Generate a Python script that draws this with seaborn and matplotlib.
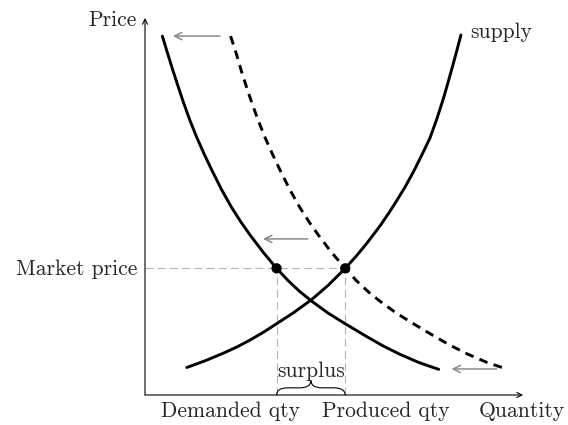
import matplotlib
matplotlib.use('Agg')
import matplotlib.pyplot as plt
import seaborn as sns
from matplotlib.path import Path
from matplotlib.patches import PathPatch

# curves (quantity, price)
supply_q = [1.11, 1.60, 2.08, 2.45, 2.79, 3.15, 3.49, 3.95, 4.42, 4.87, 5.31, 5.60, 5.88, 6.23,
            6.47, 6.68, 6.90, 7.12, 7.34, 7.56, 7.74, 7.91, 8.03, 8.15, 8.27, 8.38]
supply_p = [0.73, 0.91, 1.11, 1.28, 1.46, 1.67, 1.89, 2.19, 2.53, 2.92, 3.36, 3.68, 4.02, 4.48,
            4.83, 5.16, 5.52, 5.92, 6.36, 6.82, 7.32, 7.85, 8.26, 8.69, 9.13, 9.55]

demand_q = [0.46, 0.60, 0.75, 0.88, 1.02, 1.19, 1.37, 1.57, 1.77, 2.03, 2.30, 2.55, 2.79,
            3.14, 3.49, 3.80, 4.11, 4.42, 4.86, 5.31, 5.88, 6.30, 6.76, 7.27, 7.79]
demand_p = [9.52, 9.06, 8.58, 8.18, 7.76, 7.29, 6.84, 6.39, 5.97, 5.45, 4.97, 4.58, 4.24,
            3.78, 3.36, 3.03, 2.74, 2.49, 2.17, 1.89, 1.55, 1.31, 1.08, 0.86, 0.68]

shifted_q = [2.27, 2.42, 2.56, 2.69, 2.83, 3.00, 3.18, 3.38, 3.58, 3.84, 4.11, 4.36, 4.60,
             4.95, 5.31, 5.61, 5.92, 6.23, 6.67, 7.12, 7.69, 8.11, 8.57, 9.08, 9.59]
shifted_p = [9.52, 9.06, 8.58, 8.18, 7.76, 7.29, 6.84, 6.39, 5.97, 5.45, 4.97, 4.58, 4.24,
             3.78, 3.36, 3.03, 2.74, 2.49, 2.17, 1.89, 1.55, 1.31, 1.08, 0.86, 0.69]

market_price = 3.36
demanded_qty = 3.49
produced_qty = 5.31

# gray "shift" arrows: (q_from, q_to, price)
shift_arrows = [(1.99, 0.74, 9.52), (4.32, 3.13, 4.14), (9.33, 8.13, 0.69)]

sns.set_style('white')
plt.rcParams['font.family'] = ['cmr10', 'DejaVu Serif']
plt.rcParams['mathtext.fontset'] = 'cm'
plt.rcParams['axes.formatter.use_mathtext'] = True

fig = plt.figure(figsize=(5.68, 4.25), dpi=100)
ax = fig.add_axes([0, 0, 1, 1])
px = 37.7
ax.set_xlim(-145 / px, 423 / px)
ax.set_ylim(-30 / px, 395 / px)
ax.axis('off')

gray = '#b4b4b4'
ax.plot([0, produced_qty], [market_price, market_price], color=gray, lw=0.8, dashes=(7, 4), zorder=1)
for q in [demanded_qty, produced_qty]:
    ax.plot([q, q], [0, market_price], color=gray, lw=0.8, dashes=(7, 4), zorder=1)

# axes with arrows
ax.annotate('', xy=(10.03, 0), xytext=(0, 0),
            arrowprops=dict(arrowstyle='->', lw=0.8, color='black', shrinkA=0, shrinkB=0, mutation_scale=9))
ax.annotate('', xy=(0, 10.0), xytext=(0, 0),
            arrowprops=dict(arrowstyle='->', lw=0.8, color='black', shrinkA=0, shrinkB=0, mutation_scale=9))

sns.lineplot(x=supply_q, y=supply_p, color='black', lw=2.1, ax=ax, zorder=3)
sns.lineplot(x=demand_q, y=demand_p, color='black', lw=2.1, ax=ax, zorder=3)
sns.lineplot(x=shifted_q, y=shifted_p, color='black', lw=2.1, linestyle=(0, (3, 2.2)), ax=ax, zorder=3)

sns.scatterplot(x=[demanded_qty, produced_qty], y=[market_price, market_price],
                s=55, color='black', edgecolor='none', ax=ax, zorder=5)

for q0, q1, p in shift_arrows:
    ax.annotate('', xy=(q1, p), xytext=(q0, p),
                arrowprops=dict(arrowstyle='->', lw=1.1, color='#8a8a8a', shrinkA=0, shrinkB=0, mutation_scale=13))


def brace(x0, x1, y, h, d):
    xm = (x0 + x1) / 2
    ym = y + h / 2
    verts = [(x0, y), (x0, ym), (x0 + d, ym), (xm - d, ym), (xm, ym), (xm, y + h),
             (xm, ym), (xm + d, ym), (x1 - d, ym), (x1, ym), (x1, y)]
    codes = [Path.MOVETO, Path.CURVE3, Path.CURVE3, Path.LINETO, Path.CURVE3, Path.CURVE3,
             Path.CURVE3, Path.CURVE3, Path.LINETO, Path.CURVE3, Path.CURVE3]
    return PathPatch(Path(verts, codes), fill=False, lw=0.8, color='black')


ax.add_patch(brace(demanded_qty, produced_qty, 0.0, 0.38, 0.3))

fs = 15.5
ax.text(-0.21, 9.79, 'Price', ha='right', va='baseline', fontsize=fs)
ax.text(-0.21, 3.18, 'Market price', ha='right', va='baseline', fontsize=fs)
ax.text(8.62, 9.47, 'supply', ha='left', va='baseline', fontsize=fs)
ax.text(4.40, 0.49, 'surplus', ha='center', va='baseline', fontsize=fs)
ax.text(4.11, -0.575, 'Demanded qty', ha='right', va='baseline', fontsize=fs)
ax.text(4.69, -0.575, 'Produced qty', ha='left', va='baseline', fontsize=fs)
ax.text(9.99, -0.575, 'Quantity', ha='center', va='baseline', fontsize=fs)

fig.savefig('out.png', dpi=100)
